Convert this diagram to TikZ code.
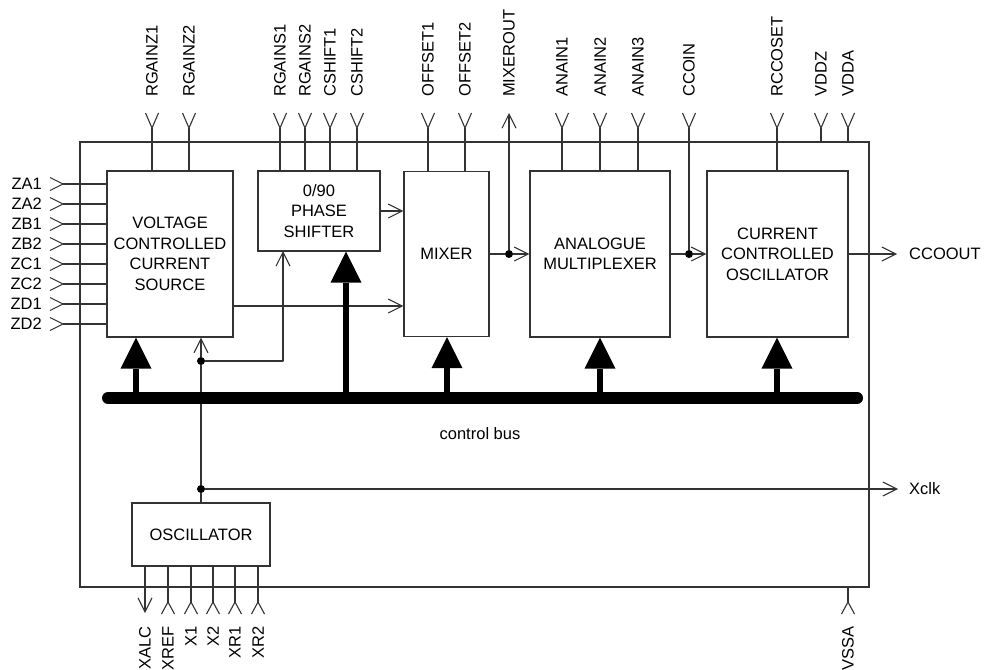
\documentclass[tikz,border=0pt]{standalone}
\usepackage{fontspec}
\setmainfont{Liberation Sans}
\usepackage{tikz}
\usetikzlibrary{arrows.meta, positioning}
\newcommand\pinfont{\fontsize{16.5}{20.5}\selectfont}
\tikzset{
  wire/.style={line width=1.1pt, draw=black!80, line join=round},
  blk/.style={draw=black!80, line width=1.1pt, align=center, inner sep=0pt, font=\pinfont},
  sig/.style={wire, -{Straight Barb[length=14pt, width=14pt]}},
  busarr/.style={line width=6pt, -{Triangle[length=31pt, width=31pt, line width=0pt]}},
  pinlab/.style={font=\pinfont, inner sep=0pt},
  toplab/.style={pinlab, rotate=90, anchor=west},
  botlab/.style={pinlab, rotate=90, anchor=east},
  jdot/.style={circle, fill, inner sep=0pt, minimum size=8pt},
  pinN/.pic={\draw[wire] (-6.5,-15) -- (0,0) -- (6.5,-15);},
  pinW/.pic={\draw[wire] (-13,-6.5) -- (0,0) -- (-13,6.5);},
  pinS/.pic={\draw[wire] (-6.5,12) -- (0,0) -- (6.5,12);},
}
\begin{document}
\begin{tikzpicture}[x=1pt, y=-1pt, font=\pinfont]
  \useasboundingbox (0,0) rectangle (984,669);
  % chip outline and blocks
  \node[blk, minimum width=789pt, minimum height=445pt] (chip) at (474.5,364.5) {};
  \node[blk, minimum width=126pt, minimum height=166pt] (vccs) at (170,254) {VOLTAGE\\CONTROLLED\\CURRENT\\SOURCE};
  \node[blk, minimum width=122pt, minimum height=80pt] (shft) at (319,211) {0/90\\PHASE\\SHIFTER};
  \node[blk, minimum width=85pt, minimum height=165pt] (mixer) at (446.5,254) {MIXER};
  \node[blk, minimum width=140pt, minimum height=166pt] (mux) at (600,254) {ANALOGUE\\MULTIPLEXER};
  \node[blk, minimum width=141pt, minimum height=166pt] (cco) at (777.5,254) {CURRENT\\CONTROLLED\\OSCILLATOR};
  \node[blk, minimum width=138pt, minimum height=63pt] (osc) at (201,534.5) {OSCILLATOR};
  % top pins
  \foreach \x/\lab/\tgt in {152/RGAINZ1/vccs, 189/RGAINZ2/vccs, 280/RGAINS1/shft, 305/RGAINS2/shft,
      330/CSHIFT1/shft, 357/CSHIFT2/shft, 428/OFFSET1/mixer, 465/OFFSET2/mixer, 562/ANAIN1/mux,
      600/ANAIN2/mux, 638/ANAIN3/mux, 777/RCCOSET/cco, 821/VDDZ/chip, 848/VDDA/chip} {
    \coordinate (p\lab) at (\x,128);
    \pic at (p\lab) {pinN};
    \node[toplab] at (\x,97) {\lab};
    \draw[wire] (p\lab) -- (p\lab |- \tgt.north);
  }
  \coordinate (pCCOIN) at (689,128);
  \pic at (pCCOIN) {pinN};
  \node[toplab] at (689,97) {CCOIN};
  \coordinate (pMIXEROUT) at (509,113);
  \node[toplab] at (509,97) {MIXEROUT};
  % left pins
  \foreach \lab [count=\i from 0] in {ZA1,ZA2,ZB1,ZB2,ZC1,ZC2,ZD1,ZD2} {
    \coordinate (p\lab) at (63,{184+20*\i});
    \pic at (p\lab) {pinW};
    \node[pinlab, anchor=east] at (42,{184+20*\i}) {\lab};
    \draw[wire] (p\lab) -- (p\lab -| vccs.west);
  }
  % bottom pins
  \foreach \x/\lab in {168/XREF, 191/X1, 213/X2, 235/XR1, 258/XR2} {
    \coordinate (p\lab) at (\x,602);
    \pic at (p\lab) {pinS};
    \node[botlab] at (\x,626) {\lab};
    \draw[wire] (p\lab) -- (p\lab |- osc.south);
  }
  \coordinate (pXALC) at (145,613);
  \draw[sig] (pXALC |- osc.south) -- (pXALC);
  \node[botlab] at (145,626) {XALC};
  \coordinate (pVSSA) at (848,602);
  \pic at (pVSSA) {pinS};
  \node[botlab] at (848,626) {VSSA};
  \draw[wire] (pVSSA) -- (pVSSA |- chip.south);
  % junctions
  \node[jdot] (dclk) at (201,489) {};
  \node[jdot] (dps) at (201,361) {};
  \node[jdot] (dmo) at (509,254) {};
  \node[jdot] (dcc) at (689,254) {};
  % clock distribution
  \coordinate (pXclk) at (898,489);
  \coordinate (psin) at (283,251);
  \draw[wire] (osc.north) -- (dclk) -- (dps);
  \draw[sig] (dps) -- (dps |- vccs.south);
  \draw[sig] (dps) -| (psin);
  \draw[sig] (dclk) -- (pXclk);
  \node[pinlab, anchor=west] at (909,489) {Xclk};
  % signal path
  \coordinate (vo) at ([yshift=-52pt]vccs.east);
  \draw[sig] (vo) -- (vo -| mixer.west);
  \draw[sig] (shft.east) -- (shft.east -| mixer.west);
  \draw[wire] (mixer.east) -- (dmo);
  \draw[sig] (dmo) -- (dmo -| mux.west);
  \draw[sig] (dmo) -- (pMIXEROUT);
  \draw[wire] (mux.east) -- (dcc);
  \draw[wire] (pCCOIN) -- (dcc);
  \draw[sig] (dcc) -- (dcc -| cco.west);
  \coordinate (pCCOOUT) at (897,254);
  \draw[sig] (cco.east) -- (pCCOOUT);
  \node[pinlab, anchor=west] at (909,254) {CCOOUT};
  % control bus
  \coordinate (busL) at (108,398);
  \coordinate (busR) at (857,398);
  \draw[line width=12pt, line cap=round] (busL) -- (busR);
  \foreach \x/\tgt in {136/vccs, 346/shft, 447/mixer, 600/mux, 777/cco} {
    \coordinate (b) at (\x,398);
    \draw[busarr] (b) -- (b |- \tgt.south);
  }
  \node[pinlab] (buslab) at (480,434) {control bus};
\end{tikzpicture}
\end{document}
